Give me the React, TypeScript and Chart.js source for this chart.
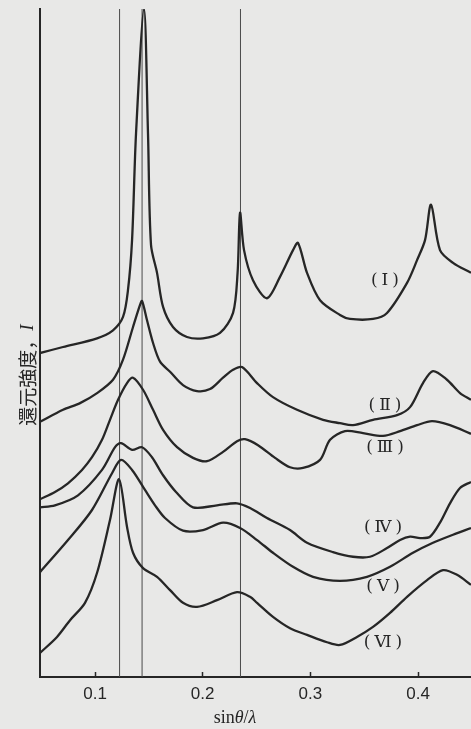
import React, { useEffect, useRef } from "react";
import { Chart, registerables } from "chart.js";

Chart.register(...registerables);

// ---- axis settings (sinθ/λ and reduced intensity, arbitrary units) ----
const xTicks = [0.1, 0.2, 0.3, 0.4];
const xMin = 0.0489;
const xMax = 0.4492;
const yMin = 0;
const yMax = 100;

// thin vertical reference lines (sinθ/λ)
const refLines = [0.1228, 0.1437, 0.2351];

// ---- curves: [sinθ/λ, reduced intensity I (offset, arbitrary units)] ----
const curveI: [number, number][] = [
  [0.0489, 48.5], [0.0703, 49.4], [0.1019, 50.7], [0.1167, 51.9], [0.126, 53.9],
  [0.1306, 57.9], [0.1344, 65.4], [0.1381, 81.4], [0.1455, 100.0], [0.1492, 81.4],
  [0.152, 64.7], [0.1576, 60.5], [0.1632, 55.4], [0.1724, 52.4], [0.1854, 50.9],
  [0.2003, 50.7], [0.2161, 51.5], [0.2282, 54.5], [0.2324, 60.5], [0.2347, 69.5],
  [0.2384, 63.9], [0.2467, 59.4], [0.2597, 56.7], [0.2718, 59.9], [0.2839, 63.9],
  [0.2885, 65.0], [0.2969, 60.5], [0.309, 56.4], [0.3275, 54.2], [0.3368, 53.6],
  [0.3582, 53.6], [0.3712, 54.5], [0.3898, 59.0], [0.3991, 62.4], [0.4065, 65.4],
  [0.4121, 70.7], [0.4204, 63.9], [0.4325, 62.0], [0.4492, 60.5],
];

const curveII: [number, number][] = [
  [0.0489, 38.2], [0.0703, 40.0], [0.0861, 41.0], [0.1019, 42.5], [0.1167, 44.5],
  [0.126, 47.5], [0.1353, 52.4], [0.1418, 55.7], [0.1437, 56.3], [0.1483, 53.4],
  [0.1539, 50.0], [0.1604, 47.2], [0.1697, 45.7], [0.1817, 43.7], [0.1947, 42.8],
  [0.2068, 43.1], [0.2189, 44.8], [0.2282, 46.0], [0.2365, 46.4], [0.2505, 44.0],
  [0.2653, 41.9], [0.2876, 40.0], [0.3118, 38.5], [0.3275, 38.0], [0.3396, 37.7],
  [0.3582, 38.5], [0.3805, 39.2], [0.3926, 40.4], [0.4046, 44.0], [0.4139, 45.8],
  [0.4269, 44.5], [0.439, 42.5], [0.4492, 41.5],
];

const curveIII: [number, number][] = [
  [0.0489, 26.6], [0.0628, 27.7], [0.0749, 29.0], [0.0879, 31.0], [0.0972, 32.9],
  [0.1065, 35.5], [0.1139, 38.5], [0.1214, 41.5], [0.1297, 44.0], [0.1353, 44.8],
  [0.1446, 43.0], [0.1539, 40.0], [0.1632, 37.0], [0.1762, 34.4], [0.191, 32.8],
  [0.204, 32.3], [0.2189, 33.7], [0.2319, 35.3], [0.2393, 35.6], [0.2514, 34.7],
  [0.2672, 32.8], [0.2811, 31.4], [0.2932, 31.3], [0.309, 32.5], [0.3183, 35.5],
  [0.3322, 36.8], [0.3489, 36.5], [0.3675, 36.1], [0.3833, 36.8], [0.3991, 37.7],
  [0.413, 38.3], [0.4297, 37.7], [0.4492, 36.4],
];

const curveIV: [number, number][] = [
  [0.0489, 25.4], [0.0628, 25.7], [0.0842, 27.2], [0.1065, 31.0], [0.1186, 34.4],
  [0.1241, 35.0], [0.1344, 34.0], [0.1437, 34.4], [0.1529, 32.9], [0.1632, 30.2],
  [0.1752, 27.7], [0.191, 25.4], [0.2133, 25.7], [0.2319, 26.0], [0.244, 25.3],
  [0.2597, 23.8], [0.2811, 22.0], [0.2969, 20.1], [0.321, 18.7], [0.3396, 18.0],
  [0.3554, 18.0], [0.3712, 19.3], [0.3833, 20.5], [0.3926, 21.0], [0.4019, 20.8],
  [0.4111, 21.0], [0.4204, 23.1], [0.4297, 26.0], [0.439, 28.3], [0.4492, 29.2],
];

const curveV: [number, number][] = [
  [0.0489, 15.7], [0.0749, 20.5], [0.0972, 25.0], [0.1158, 30.5], [0.1241, 32.5],
  [0.1344, 31.0], [0.1464, 28.0], [0.1557, 25.7], [0.165, 23.8], [0.1817, 21.9],
  [0.2003, 22.0], [0.2189, 23.1], [0.2347, 22.3], [0.2505, 20.5], [0.2653, 18.6],
  [0.2839, 16.5], [0.3025, 15.0], [0.3275, 14.4], [0.3526, 15.0], [0.374, 16.5],
  [0.3953, 18.6], [0.4139, 20.1], [0.4325, 21.3], [0.4492, 22.3],
];

const curveVI: [number, number][] = [
  [0.0489, 3.6], [0.0647, 6.0], [0.0768, 8.5], [0.0907, 11.1], [0.1019, 15.6],
  [0.1139, 23.5], [0.1223, 29.6], [0.1297, 22.5], [0.1353, 18.6], [0.1446, 16.3],
  [0.1576, 15.0], [0.1697, 13.0], [0.1817, 11.1], [0.1947, 10.5], [0.2133, 11.5],
  [0.2319, 12.7], [0.244, 12.0], [0.2505, 11.1], [0.2653, 9.0], [0.2811, 7.3],
  [0.2969, 6.3], [0.3155, 5.2], [0.3275, 4.8], [0.3433, 6.0], [0.3582, 7.5],
  [0.374, 9.6], [0.3898, 12.0], [0.4084, 14.5], [0.4232, 16.0], [0.4362, 15.3],
  [0.4492, 13.8],
];

const curves = [curveI, curveII, curveIII, curveIV, curveV, curveVI];

// curve names and where they are written (data coordinates)
const curveNames = ["(Ⅰ)", "(Ⅱ)", "(Ⅲ)", "(Ⅳ)", "(Ⅴ)", "(Ⅵ)"];
const nameAnchors: [number, number][] = [
  [0.3693, 59.4], [0.3693, 40.7], [0.3693, 34.3],
  [0.3675, 22.3], [0.3675, 13.6], [0.3675, 5.1],
];

const yTitleJa = "還元強度，";
const yTitleSym = "I";

const BG = "#e8e8e7";
const INK = "#262626";

const textPlugin = {
  id: "textPlugin",
  beforeDraw(chart: any) {
    const ctx = chart.ctx;
    ctx.save();
    ctx.fillStyle = BG;
    ctx.fillRect(0, 0, chart.width, chart.height);
    ctx.restore();
  },
  afterDraw(chart: any) {
    const { ctx } = chart;
    const xs = chart.scales.x;
    const ys = chart.scales.y;
    ctx.save();
    ctx.fillStyle = INK;
    ctx.textAlign = "center";
    ctx.textBaseline = "middle";
    ctx.font = "17px 'DejaVu Serif', 'Liberation Serif', 'Noto Sans CJK JP', serif";
    (ctx as any).letterSpacing = "4px";
    curveNames.forEach((t, i) => {
      ctx.fillText(t, xs.getPixelForValue(nameAnchors[i][0]) + 2, ys.getPixelForValue(nameAnchors[i][1]));
    });
    ctx.restore();

    // y-axis title (rotated)
    ctx.save();
    ctx.fillStyle = INK;
    ctx.translate(28, 375);
    ctx.rotate(-Math.PI / 2);
    ctx.textBaseline = "middle";
    ctx.textAlign = "left";
    const fJa = "19px 'Noto Sans CJK JP', sans-serif";
    const fIt = "italic 19px 'Liberation Serif', serif";
    ctx.font = fJa;
    const w1 = ctx.measureText(yTitleJa).width;
    ctx.font = fIt;
    const w2 = ctx.measureText(yTitleSym).width;
    const sx = -(w1 + w2) / 2;
    ctx.font = fJa;
    ctx.fillText(yTitleJa, sx, 0);
    ctx.font = fIt;
    ctx.fillText(yTitleSym, sx + w1, 0);
    ctx.restore();

    // x-axis title: sinθ/λ
    ctx.save();
    ctx.fillStyle = INK;
    ctx.textBaseline = "middle";
    ctx.textAlign = "left";
    const parts: [string, string][] = [
      ["sin", "18px 'Liberation Serif', serif"],
      ["θ", "italic 18px 'Liberation Serif', serif"],
      ["/", "18px 'Liberation Serif', serif"],
      ["λ", "italic 18px 'Liberation Serif', serif"],
    ];
    let total = 0;
    const widths = parts.map(([t, f]) => {
      ctx.font = f;
      const w = ctx.measureText(t).width;
      total += w;
      return w;
    });
    let px = 235 - total / 2;
    parts.forEach(([t, f], i) => {
      ctx.font = f;
      ctx.fillText(t, px, 718);
      px += widths[i];
    });
    ctx.restore();
  },
};

export default function App() {
  const ref = useRef<HTMLCanvasElement | null>(null);

  useEffect(() => {
    if (!ref.current) return;
    const datasets: any[] = [
      ...curves.map((c) => ({
        data: c,
        borderColor: INK,
        borderWidth: 2.3,
        pointRadius: 0,
        fill: false,
        tension: 0.3,
      })),
      ...refLines.map((v) => ({
        data: [[v, yMin], [v, yMax]],
        borderColor: "#4a4a4a",
        borderWidth: 1,
        pointRadius: 0,
        fill: false,
        tension: 0,
      })),
    ];
    const chart = new Chart(ref.current, {
      type: "line",
      data: { datasets },
      plugins: [textPlugin],
      options: {
        animation: false,
        responsive: false,
        devicePixelRatio: 1,
        events: [],
        layout: { padding: { top: 9, left: 0, right: 0, bottom: 0 } },
        plugins: { legend: { display: false }, tooltip: { enabled: false } },
        scales: {
          x: {
            type: "linear",
            min: xMin,
            max: xMax,
            afterFit: (s: any) => {
              s.height = 52;
            },
            afterBuildTicks: (s: any) => {
              s.ticks = xTicks.map((v) => ({ value: v }));
            },
            ticks: {
              color: INK,
              padding: 12,
              font: { family: "'Liberation Sans', Arial, sans-serif", size: 17 },
              callback: (v: any) => String(v),
            },
            grid: {
              display: true,
              drawOnChartArea: false,
              drawTicks: true,
              tickLength: -5,
              tickWidth: 1.5,
              tickColor: INK,
            },
            border: { display: true, color: INK, width: 2 },
          },
          y: {
            type: "linear",
            min: yMin,
            max: yMax,
            afterFit: (s: any) => {
              s.width = 40;
            },
            ticks: { display: false },
            grid: { display: false },
            border: { display: true, color: INK, width: 2 },
          },
        },
      },
    } as any);
    return () => chart.destroy();
  }, []);

  return (
    <div style={{ position: "absolute", left: 0, top: 0, width: 471, height: 729, background: BG }}>
      <canvas ref={ref} width={471} height={729} style={{ display: "block" }} />
    </div>
  );
}
